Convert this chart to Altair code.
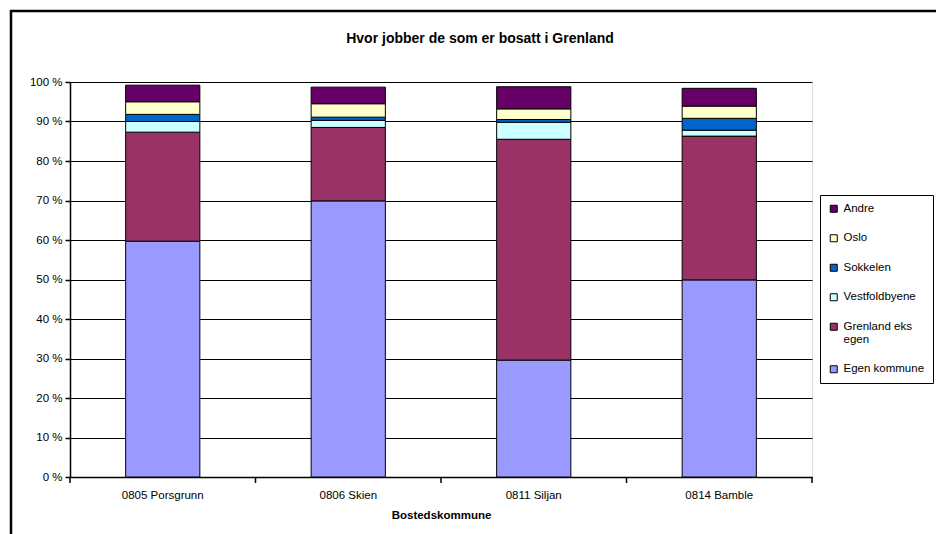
import altair as alt
import pandas as pd

kommuner = ["0805 Porsgrunn", "0806 Skien", "0811 Siljan", "0814 Bamble"]
serier = ["Egen kommune", "Grenland eks egen", "Vestfoldbyene", "Sokkelen", "Oslo", "Andre"]
farger = ["#9999FF", "#993366", "#CCFFFF", "#0066CC", "#FFFFCC", "#660066"]
tittel = "Hvor jobber de som er bosatt i Grenland"

egen_kommune = [59.7, 69.9, 29.6, 49.9]
grenland_eks_egen = [27.6, 18.6, 55.9, 36.4]
vestfoldbyene = [2.7, 1.8, 4.3, 1.5]
sokkelen = [1.8, 0.8, 0.7, 3.0]
oslo = [3.2, 3.4, 2.7, 3.1]
andre = [4.2, 4.2, 5.6, 4.5]

verdier = [egen_kommune, grenland_eks_egen, vestfoldbyene, sokkelen, oslo, andre]
rows = []
for si, (s, vals) in enumerate(zip(serier, verdier)):
    for k, v in zip(kommuner, vals):
        rows.append({"Bostedskommune": k, "serie": s, "idx": si, "andel": v / 100})
df = pd.DataFrame(rows)
tdf = pd.DataFrame({"tittel": [tittel]})
kdf = pd.DataFrame({"Bostedskommune": kommuner})

FONT = "Liberation Sans"
AXFS = 11.5
W, H = 742, 395
HALF_GAP = 0.3 * W / len(kommuner)

xscale = alt.Scale(domain=kommuner, paddingInner=0.6, paddingOuter=0.3)

bars = alt.Chart(df).mark_bar(stroke="black", strokeWidth=1).encode(
    x=alt.X("Bostedskommune:N", sort=kommuner, scale=xscale,
            axis=alt.Axis(title="Bostedskommune", labelAngle=0, ticks=False,
                          labelFont=FONT, titleFont=FONT, labelFontSize=AXFS, titleFontSize=AXFS,
                          labelColor="black", titleColor="black",
                          domainColor="black", domainWidth=1.5,
                          titleFontWeight="bold", labelPadding=12, titlePadding=9)),
    y=alt.Y("sum(andel):Q", stack="zero",
            scale=alt.Scale(domain=[0, 1], nice=False),
            axis=alt.Axis(title=None, format=".0%", values=[i / 10 for i in range(11)],
                          labelExpr="replace(datum.label, '%', ' %')", grid=True, ticks=True,
                          tickSize=5, tickWidth=1.5, tickColor="black", labelOverlap=False,
                          labelFont=FONT, labelFontSize=AXFS, labelColor="black",
                          domainColor="black", domainWidth=1.5,
                          gridColor="black", gridWidth=1, labelPadding=3)),
    color=alt.Color("serie:N",
                    scale=alt.Scale(domain=serier[::-1], range=farger[::-1]),
                    legend=alt.Legend(title=None, orient="none", legendX=750, legendY=113,
                                      symbolType="square", symbolSize=49,
                                      symbolStrokeColor="black", symbolStrokeWidth=1,
                                      labelFontSize=11.5, labelFont=FONT, labelOffset=4,
                                      rowPadding=16.5, padding=8, strokeColor="black",
                                      fillColor="white", labelLimit=200,
                                      labelExpr="datum.label == 'Grenland eks egen' ? ['Grenland eks', 'egen'] : datum.label")),
    order=alt.Order("idx:Q", sort="ascending"),
)

# category-boundary tick marks below the x axis (Excel style)
ticks_left = alt.Chart(kdf).mark_rule(color="black", strokeWidth=1.5, clip=False,
                                      xOffset=-HALF_GAP).encode(
    x=alt.X("Bostedskommune:N", scale=xscale, bandPosition=0),
    y=alt.value(H), y2=alt.value(H + 6),
)
ticks_right = alt.Chart(kdf).transform_filter(
    alt.datum.Bostedskommune == kommuner[-1]
).mark_rule(color="black", strokeWidth=1.5, clip=False, xOffset=HALF_GAP).encode(
    x=alt.X("Bostedskommune:N", scale=xscale, bandPosition=1),
    y=alt.value(H), y2=alt.value(H + 6),
)

frame = alt.Chart(tdf).mark_rect(filled=False, stroke="black", strokeWidth=2.5, clip=False).encode(
    x=alt.value(-59), x2=alt.value(900), y=alt.value(-71), y2=alt.value(480)
)

title = alt.Chart(tdf).mark_text(fontSize=14, fontWeight="bold", font=FONT, color="black",
                                 baseline="middle", align="center").encode(
    x=alt.value(410), y=alt.value(-43), text="tittel:N"
)

chart = alt.layer(frame, bars, ticks_left, ticks_right, title).properties(
    width=W, height=H,
    autosize=alt.AutoSizeParams(type="none"),
    padding={"left": 70, "top": 82, "right": 124, "bottom": 57},
).configure_view(stroke="#808080", strokeWidth=1).configure(background="white")

chart.save("out.html", embed_options={"renderer": "svg", "actions": False})
